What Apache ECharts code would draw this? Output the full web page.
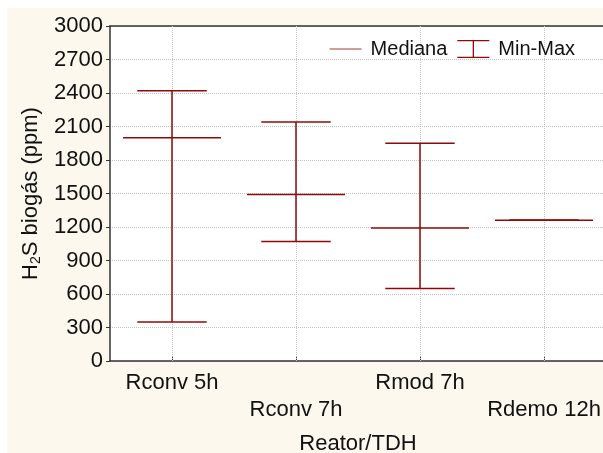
<!DOCTYPE html>
<html><head><meta charset="utf-8">
<script src="https://cdn.jsdelivr.net/npm/echarts@6/dist/echarts.min.js"></script>
<style>html,body{margin:0;padding:0;background:#fff}#c{width:603px;height:453px}</style>
</head><body><div id="c"></div>
<script>
var categories = ['Rconv 5h', 'Rconv 7h', 'Rmod 7h', 'Rdemo 12h'];
var medians = [2000, 1490, 1190, 1260];
var mins = [350, 1070, 650, 1260];
var maxs = [2420, 2140, 1950, 1260];
var yTicks = [0, 300, 600, 900, 1200, 1500, 1800, 2100, 2400, 2700, 3000];

var RED = '#8e0a0a';
var GRIDC = '#c4c4c4';
var FONT = 'Liberation Sans, Arial, sans-serif';
var chart = echarts.init(document.getElementById('c'));

var whiskerData = categories.map(function (c, i) { return [i, mins[i], maxs[i]]; });
var medianData = categories.map(function (c, i) { return [i, medians[i]]; });

chart.setOption({
  animation: false,
  backgroundColor: '#ffffff',
  graphic: [{ type: 'rect', z: -10, shape: { x: 7, y: 8, width: 603, height: 453 }, style: { fill: '#fdf8ee' } }],
  grid: { left: 110, top: 26, width: 496, height: 335, show: true, backgroundColor: '#ffffff', borderWidth: 0,
          containLabel: false, outerBoundsMode: 'none' },
  legend: {
    right: 23, top: 34, itemGap: 10, itemWidth: 32, itemHeight: 18,
    textStyle: { fontFamily: FONT, fontSize: 20, color: '#111', padding: [0, 0, 0, 4] },
    data: [
      { name: 'Mediana', icon: 'path://M0,8.4L32,8.4L32,9.6L0,9.6Z', itemStyle: { color: '#a83a3a' } },
      { name: 'Min-Max', icon: 'path://M0,0L32,0L32,1.3L16.65,1.3L16.65,16.7L32,16.7L32,18L0,18L0,16.7L15.35,16.7L15.35,1.3L0,1.3Z', itemStyle: { color: RED } }
    ]
  },
  xAxis: [{
    type: 'category', data: categories, boundaryGap: true,
    name: 'Reator/TDH', nameLocation: 'middle', nameGap: 72,
    nameTextStyle: { fontFamily: FONT, fontSize: 22, color: '#111' },
    axisLine: { lineStyle: { color: '#333', width: 1.5 } },
    axisTick: { show: true, inside: true, alignWithLabel: true, length: 4, lineStyle: { color: '#333' } },
    axisLabel: {
      fontFamily: FONT, fontSize: 22, color: '#111', margin: 8, lineHeight: 27, interval: 0,
      formatter: function (v, i) { return i % 2 ? '\n' + v : v; }
    },
    splitLine: { show: false }
  }, {
    type: 'category', data: categories, position: 'top',
    axisLine: { show: true, lineStyle: { color: '#333', width: 1.5 } },
    axisTick: { show: false }, axisLabel: { show: false }, splitLine: { show: false }
  }],
  yAxis: {
    type: 'value', min: 0, max: 3000, interval: 300,
    name: 'H{sub|2}S biogás (ppm)', nameLocation: 'middle', nameGap: 67, nameRotate: 90,
    nameTextStyle: { fontFamily: FONT, fontSize: 22, color: '#111',
      rich: { sub: { fontFamily: FONT, fontSize: 14, color: '#111', verticalAlign: 'bottom', padding: [10, 0, 0, 0] } } },
    axisLine: { show: true, lineStyle: { color: '#333', width: 1.5 } },
    axisTick: { show: true, inside: false, length: 4, lineStyle: { color: '#333' } },
    axisLabel: { fontFamily: FONT, fontSize: 22, color: '#111', margin: 7,
      formatter: function (v) { return yTicks.indexOf(v) >= 0 ? String(v) : ''; } },
    splitLine: { show: true, lineStyle: { color: GRIDC, type: 'dotted' } }
  },
  series: [
    {
      name: 'Min-Max', type: 'custom', z: 3, data: whiskerData, encode: { x: 0, y: [1, 2] },
      markLine: {
        z: 1, silent: true, symbol: 'none', label: { show: false },
        lineStyle: { color: GRIDC, type: 'dotted', width: 1 },
        data: categories.map(function (c) { return { xAxis: c }; })
      },
      renderItem: function (params, api) {
        var x = api.value(0), lo = api.value(1), hi = api.value(2);
        var pLo = api.coord([x, lo]), pHi = api.coord([x, hi]);
        var band = api.size([1, 0])[0];
        var hw = band * 0.28;
        var st = { stroke: RED, lineWidth: 1.5 };
        return { type: 'group', children: [
          { type: 'line', shape: { x1: pLo[0], y1: pLo[1], x2: pHi[0], y2: pHi[1] }, style: st },
          { type: 'line', shape: { x1: pLo[0] - hw, y1: pLo[1], x2: pLo[0] + hw, y2: pLo[1] }, style: st },
          { type: 'line', shape: { x1: pHi[0] - hw, y1: pHi[1], x2: pHi[0] + hw, y2: pHi[1] }, style: st }
        ] };
      }
    },
    {
      name: 'Mediana', type: 'custom', z: 3, data: medianData, encode: { x: 0, y: 1 },
      renderItem: function (params, api) {
        var p = api.coord([api.value(0), api.value(1)]);
        var band = api.size([1, 0])[0];
        var hw = band * 0.395;
        return { type: 'line', shape: { x1: p[0] - hw, y1: p[1], x2: p[0] + hw, y2: p[1] },
          style: { stroke: RED, lineWidth: 1.5 } };
      }
    }
  ]
});
</script></body></html>
